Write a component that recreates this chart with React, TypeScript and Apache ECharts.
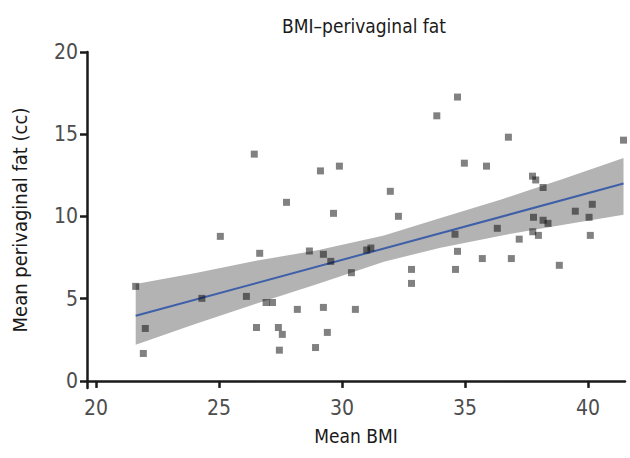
import React, { useEffect, useRef } from "react";
import * as echarts from "echarts";

const pointsX = [
  21.61, 22.0, 21.92, 24.3, 25.05, 26.11, 26.43, 26.65, 26.52, 26.91, 27.17, 27.41, 27.57, 27.45, 27.74,
  28.18, 28.67, 28.92, 29.12, 29.24, 29.24, 29.4, 29.54, 29.65, 29.89, 30.38, 30.54, 31.0, 31.17, 31.96,
  32.29, 32.82, 32.82, 33.85, 34.61, 34.69, 34.59, 34.69, 34.97, 35.7, 35.87, 36.31, 36.76, 36.88, 37.2,
  37.74, 37.87, 37.78, 37.75, 37.98, 38.17, 38.17, 38.37, 38.83, 39.48, 40.04, 40.09, 40.17, 41.44,
];
const pointsY = [
  5.75, 3.19, 1.67, 5.02, 8.79, 5.14, 13.79, 7.76, 3.25, 4.77, 4.77, 3.25, 2.83, 1.87, 10.86,
  4.35, 7.9, 2.03, 12.77, 7.7, 4.47, 2.95, 7.27, 10.19, 13.06, 6.58, 4.35, 7.96, 8.08, 11.53,
  10.01, 6.78, 5.93, 16.12, 6.78, 7.88, 8.92, 17.26, 13.24, 7.44, 13.06, 9.28, 14.82, 7.44, 8.62,
  12.45, 12.22, 9.95, 9.07, 8.85, 11.76, 9.77, 9.58, 7.03, 10.32, 9.95, 8.85, 10.74, 14.64,
];

const fitX = [21.61, 41.44];
const fitY = [3.96, 12.0];

const bandX = [21.61, 24, 26.5, 29, 31.7, 34, 36.5, 39, 41.44];
const bandUpper = [5.9, 6.55, 7.3, 7.95, 8.85, 9.9, 11.05, 12.3, 13.55];
const bandLower = [2.2, 3.45, 4.7, 5.9, 7.25, 8.1, 8.85, 9.5, 10.1];

const xTicks = [20, 25, 30, 35, 40];
const yTicks = [0, 5, 10, 15, 20];

const FONT = "'Liberation Sans Narrow', 'DejaVu Sans Condensed', 'Roboto', sans-serif";

export default function App() {
  const ref = useRef<HTMLDivElement>(null);
  useEffect(() => {
    document.body.style.margin = "0";
    if (!ref.current) return;
    const chart = echarts.init(ref.current, null, { renderer: "svg" });
    const axisColor = "#1a1a1a";
    const labelColor = "#4d4d4d";
    chart.setOption({
      animation: false,
      title: {
        text: "BMI–perivaginal fat",
        left: 359,
        top: 11,
        textAlign: "center",
        textStyle: { fontFamily: FONT, fontSize: 19, fontWeight: "normal", color: "#1a1a1a" },
      },
      grid: { left: 87, right: 5, top: 52, bottom: 70, containLabel: false },
      xAxis: {
        type: "value",
        min: 19.63,
        max: 41.5,
        name: "Mean BMI",
        nameLocation: "middle",
        nameGap: 38,
        nameTextStyle: { fontFamily: FONT, fontSize: 19, color: axisColor },
        axisLine: { lineStyle: { color: axisColor, width: 2.5 } },
        axisTick: { customValues: xTicks, length: 7, lineStyle: { color: axisColor, width: 2.5 } },
        axisLabel: { customValues: xTicks, fontFamily: FONT, fontSize: 21, color: labelColor, margin: 9 },
        splitLine: { show: false },
      },
      yAxis: {
        type: "value",
        min: -0.43,
        max: 20,
        name: "Mean perivaginal fat (cc)",
        nameLocation: "middle",
        nameGap: 57,
        nameTextStyle: { fontFamily: FONT, fontSize: 20, color: axisColor },
        axisLine: { lineStyle: { color: axisColor, width: 2.5 } },
        axisTick: { customValues: yTicks, length: 7, lineStyle: { color: axisColor, width: 2.5 } },
        axisLabel: { customValues: yTicks, fontFamily: FONT, fontSize: 21, color: labelColor, margin: 9 },
        splitLine: { show: false },
      },
      series: [
        {
          type: "custom",
          data: bandX.map((x, i) => [x, bandUpper[i], bandLower[i]]),
          encode: { x: 0, y: 1 },
          z: 1,
          renderItem: (params: any, api: any) => {
            if (params.dataIndex !== 0) return null;
            const up = bandX.map((x, i) => api.coord([x, bandUpper[i]]));
            const lo = bandX.map((x, i) => api.coord([x, bandLower[i]])).reverse();
            return {
              type: "polygon",
              shape: { points: up.concat(lo) },
              style: { fill: "#b3b3b3" },
            };
          },
        },
        {
          type: "line",
          data: fitX.map((x, i) => [x, fitY[i]]),
          symbol: "none",
          z: 2,
          lineStyle: { color: "#3f5fa8", width: 2 },
        },
        {
          type: "scatter",
          data: pointsX.map((x, i) => [x, pointsY[i]]),
          symbol: "rect",
          symbolSize: 7,
          z: 3,
          itemStyle: { color: "rgba(0,0,0,0.62)" },
        },
      ],
    });
    return () => chart.dispose();
  }, []);
  return <div ref={ref} style={{ width: 630, height: 458 }} />;
}
